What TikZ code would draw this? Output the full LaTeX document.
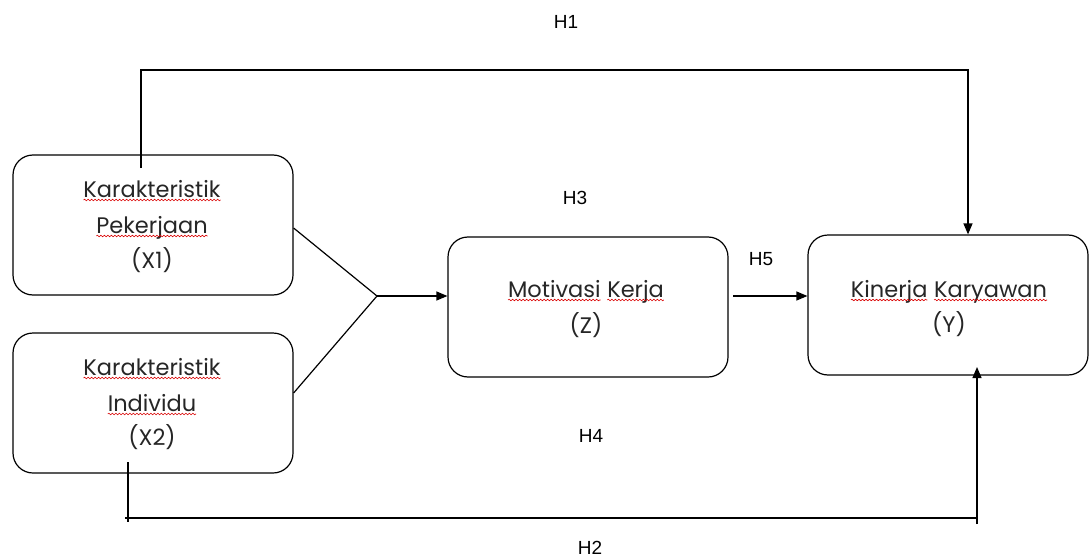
\documentclass[tikz,border=0pt]{standalone}
\usepackage{fontspec}
\setmainfont{Poppins}
\newfontfamily\hfont{Liberation Sans}
\usetikzlibrary{arrows.meta,calc,decorations.pathmorphing}
\newcommand\wavy[1]{\tikz[baseline=(w.base)]{\node[inner sep=0pt,outer sep=0pt](w){#1};\draw[red!85!black,line width=0.6pt,decorate,decoration={snake,amplitude=0.8pt,segment length=3.5pt}] ([yshift=-3pt]w.base west)--([yshift=-3pt]w.base east);}}
\begin{document}
\begin{tikzpicture}[x=1pt,y=-1pt,
  box/.style={draw,line width=1.2pt,rounded corners=20pt,minimum width=280pt,minimum height=140pt,inner sep=0pt},
  txt/.style={anchor=base,inner sep=0pt,font=\fontsize{22.5}{25}\selectfont,text=black!85},
  hl/.style={inner sep=0pt,font=\hfont\fontsize{19}{21}\selectfont},
  conn/.style={line width=1.2pt},
  arr/.style={line width=1.2pt,-{Triangle[length=11pt,width=9pt]}}]
\useasboundingbox (0,0) rectangle (1089,559);
% boxes
\node[box] (X1) at (153,225) {};
\node[box] (X2) at (153,403) {};
\node[box] (Z) at (588,307) {};
\node[box] (Y) at (948,305) {};
% texts
\node[txt] (x1a) at (152,197) {\wavy{Karakteristik}};
\node[txt] (x1b) at (152,233) {\wavy{Pekerjaan}};
\node[txt] (x1c) at (152,268) {(X1)};
\node[txt] (x2a) at (152,375) {\wavy{Karakteristik}};
\node[txt] (x2b) at (152,411) {\wavy{Individu}};
\node[txt] (x2c) at (152,445) {(X2)};
\node[txt] (za) at (586,297) {\wavy{Motivasi} \wavy{Kerja}};
\node[txt] (zb) at (586,333) {(Z)};
\node[txt] (ya) at (949,297) {\wavy{Kinerja} \wavy{Karyawan}};
\node[txt] (yb) at (949,332) {(Y)};
% labels
\node[hl] (H1) at (566,22) {H1};
\node[hl] (H3) at (575,198) {H3};
\node[hl] (H5) at (761,259) {H5};
\node[hl] (H4) at (591,436) {H4};
\node[hl] (H2) at (590,548) {H2};
% fork
\coordinate (fork) at (377,296);
\draw[conn] ($(X1.east)+(0,3)$) -- (fork);
\draw[conn] ($(X2.east)+(0,-10)$) -- (fork);
\draw[arr] (fork) -- (Z.west |- fork);
% H5
\coordinate (h5s) at (733,296);
\draw[arr] (h5s) -- (Y.west |- h5s);
% H1
\coordinate (h1a) at (141,168);
\coordinate (h1b) at (968,70);
\draw[arr] (h1a) |- (h1b) -- (h1b |- Y.north);
% H2
\coordinate (h2a) at (128,462);
\coordinate (h2b) at (128,522);
\coordinate (h2c) at (125,518);
\coordinate (h2d) at (977,518);
\coordinate (h2e) at (977,524);
\coordinate (h2f) at (977,367);
\draw[conn] (h2a) -- (h2b);
\draw[conn] (h2c) -- (h2d);
\draw[arr] (h2e) -- (h2f);
\end{tikzpicture}
\end{document}
